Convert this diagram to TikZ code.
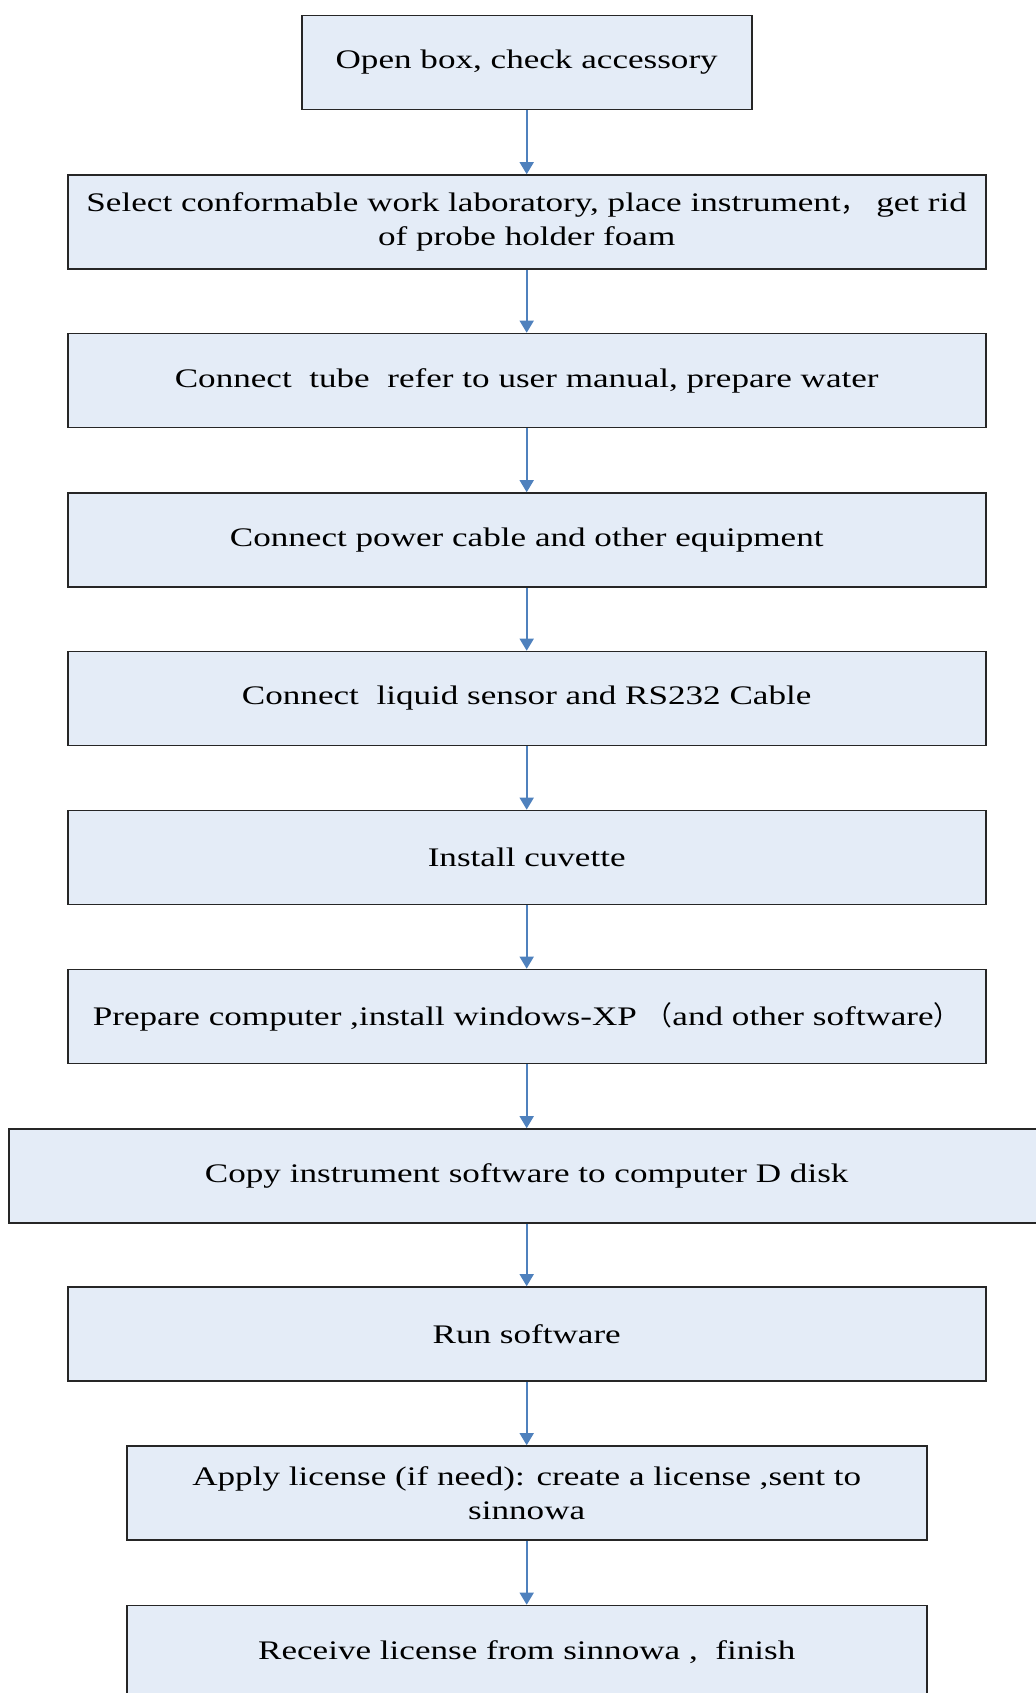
\documentclass[tikz,border=0pt]{standalone}
\usepackage{fontspec}
\setmainfont{Liberation Serif}[FakeStretch=1.31]
\newfontfamily\cjk{Noto Sans CJK SC}
\usetikzlibrary{arrows.meta}

\definecolor{boxfill}{RGB}{228,236,247}
\definecolor{arrowblue}{RGB}{79,129,189}
\newcommand*{\midx}{526.7}

\begin{document}
\begin{tikzpicture}
[
	x=0.5pt,
	y=-0.5pt,
	stepbox/.style={draw=black!85,line width=0.8pt,fill=boxfill,inner sep=0pt,
		minimum width=459pt,minimum height=47pt,align=center,
		font=\fontsize{13.4}{16.7}\selectfont},
	flowarrow/.style={draw=arrowblue,line width=0.8pt,-{Triangle[width=7pt,length=6pt]}}
]

	\useasboundingbox (0,0) rectangle (1035,1693);

	\node[stepbox,minimum width=225pt] (open) at (\midx,62.5) {Open box, check accessory};
	\node[stepbox] (select) at (\midx,222) {Select conformable work laboratory, place instrument{\cjk ，} get rid\\of probe holder foam};
	\node[stepbox] (tube) at (\midx,380.5) {Connect\ \ tube\ \ refer to user manual, prepare water};
	\node[stepbox] (power) at (\midx,540) {Connect power cable and other equipment};
	\node[stepbox] (sensor) at (\midx,698.5) {Connect\ \ liquid sensor and RS232 Cable};
	\node[stepbox] (cuvette) at (\midx,857.5) {Install cuvette};
	\node[stepbox] (computer) at (\midx,1016.5) {Prepare computer ,install windows-XP\ {\cjk （}and other software{\cjk ）}};
	\node[stepbox,minimum width=518pt] (copy) at (\midx,1176) {Copy instrument software to computer D disk};
	\node[stepbox] (run) at (\midx,1334) {Run software};
	\node[stepbox,minimum width=400pt] (apply) at (\midx,1493) {Apply license (if need): create a license ,sent to\\sinnowa};
	\node[stepbox,minimum width=400pt] (receive) at (\midx,1652.5) {Receive license from sinnowa ,\ \ finish};

	% arrows between the steps
	\foreach \a/\b in {open/select,select/tube,tube/power,power/sensor,sensor/cuvette,
		cuvette/computer,computer/copy,copy/run,run/apply,apply/receive}
		\draw[flowarrow] (\a) -- (\b);

\end{tikzpicture}
\end{document}
